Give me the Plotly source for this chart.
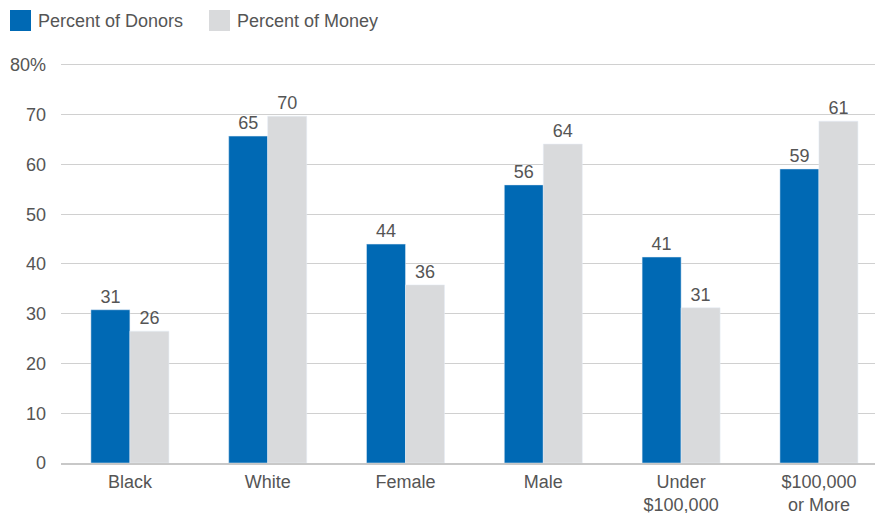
import plotly.graph_objects as go

categories = ["Black", "White", "Female", "Male", "Under<br>$100,000", "$100,000<br>or More"]
donors_values = [30.8, 65.7, 44.0, 55.9, 41.4, 59.1]
money_values = [26.5, 69.7, 35.8, 64.1, 31.2, 68.7]
donors_labels = ["31", "65", "44", "56", "41", "59"]
money_labels = ["26", "70", "36", "64", "31", "61"]
y_ticks = [0, 10, 20, 30, 40, 50, 60, 70, 80]
y_tick_text = ["0", "10", "20", "30", "40", "50", "60", "70", "80%"]

BLUE = "#0069b4"
GRAY = "#d9dadc"
TEXT = "#555555"
FONT = "Liberation Sans, Arial, sans-serif"
FS = 18

x = list(range(len(categories)))

fig = go.Figure()
fig.add_trace(go.Bar(x=x, y=donors_values, name="Percent of Donors", marker_color=BLUE,
                     text=donors_labels, textposition="outside", cliponaxis=False,
                     textfont=dict(size=FS, color=TEXT, family=FONT)))
fig.add_trace(go.Bar(x=x, y=money_values, name="Percent of Money", marker_color=GRAY,
                     text=money_labels, textposition="outside", cliponaxis=False,
                     textfont=dict(size=FS, color=TEXT, family=FONT)))

# plot area: y from 60 to 463 px, x from 61 to 875 px
TOP = 60
W = 814.0
H = 403.0

fig.update_layout(
    width=875, height=513,
    margin=dict(l=61, r=0, t=TOP, b=50),
    paper_bgcolor="white", plot_bgcolor="white",
    barmode="group", bargap=0.434, bargroupgap=0,
    showlegend=False,
    font=dict(family=FONT, size=FS, color=TEXT),
    uniformtext=dict(minsize=FS, mode="show"),
    xaxis=dict(tickmode="array", tickvals=x, ticktext=categories,
               range=[-0.5, 5.407], showgrid=False, zeroline=False,
               showline=True, linecolor="#c8c8c8", linewidth=2, automargin=False,
               ticks="", ticklabelstandoff=1, tickfont=dict(size=FS, color=TEXT)),
    yaxis=dict(range=[0, 81], tickvals=y_ticks, ticktext=y_tick_text,
               showgrid=True, gridcolor="#d0d0d0", gridwidth=1, automargin=False,
               zeroline=False, showline=False, ticks="",
               ticklabelstandoff=14, tickfont=dict(size=FS, color=TEXT)),
)

def px_x(p):
    return (p - 61) / W

def px_y(p):
    return 1 + (TOP - p) / H

# manual legend
fig.add_shape(type="rect", xref="paper", yref="paper",
              x0=px_x(10), x1=px_x(31), y0=px_y(31), y1=px_y(10),
              fillcolor=BLUE, line_width=0)
fig.add_annotation(xref="paper", yref="paper", x=px_x(36), y=px_y(21),
                   text="Percent of Donors", showarrow=False, xanchor="left", yanchor="middle",
                   font=dict(size=FS, color=TEXT, family=FONT))
fig.add_shape(type="rect", xref="paper", yref="paper",
              x0=px_x(209), x1=px_x(230), y0=px_y(31), y1=px_y(10),
              fillcolor=GRAY, line_width=0)
fig.add_annotation(xref="paper", yref="paper", x=px_x(235), y=px_y(21),
                   text="Percent of Money", showarrow=False, xanchor="left", yanchor="middle",
                   font=dict(size=FS, color=TEXT, family=FONT))

fig.write_html("out.html")
